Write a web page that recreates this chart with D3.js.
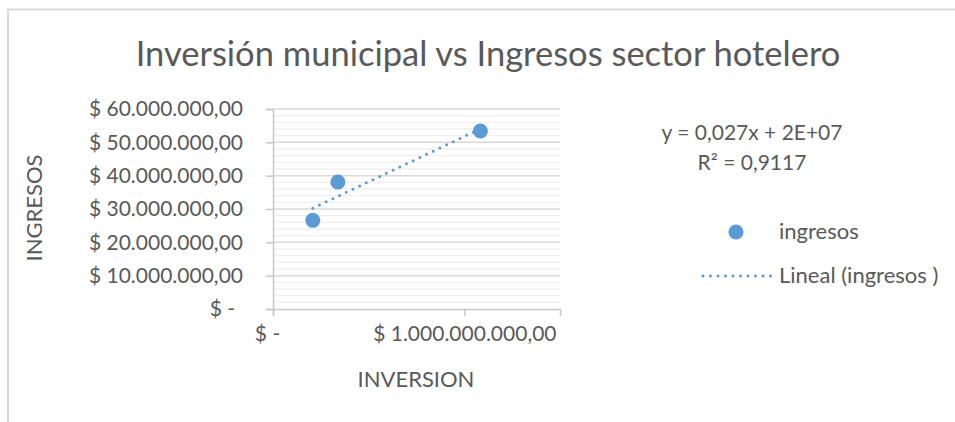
<!DOCTYPE html>
<html>
<head>
<meta charset="utf-8">
<script src="https://cdn.jsdelivr.net/npm/d3@7"></script>
<style>
  body { margin: 0; background: #fff; }
  text { font-family: Lato, "Open Sans", sans-serif; fill: #595959; }
</style>
</head>
<body>
<svg id="chart" width="955" height="422"></svg>
<script>
// datos
const inversion = [208e6, 339e6, 1084e6]
const ingresos = [26.6e6, 38.1e6, 53.4e6]
const yTicks = [0, 10e6, 20e6, 30e6, 40e6, 50e6, 60e6]
const xTicks = [0, 1e9]
const ecuacion = ["y = 0,027x + 2E+07", "R² = 0,9117"]
const leyenda = ["ingresos", "Lineal (ingresos )"]

const azul = "#5B9BD5"
const svg = d3.select("#chart")

// borde del área del gráfico
svg.append("rect")
    .attr("x", 8).attr("y", 9.5).attr("width", 1000).attr("height", 500)
    .attr("fill", "none").attr("stroke", "#D9D9D9").attr("stroke-width", 2)

svg.append("text")
    .attr("x", 488).attr("y", 66)
    .attr("text-anchor", "middle")
    .attr("font-size", 34.5)
    .text("Inversión municipal vs Ingresos sector hotelero")

const x = d3.scaleLinear().domain([0, 1.5e9]).range([273, 560])
const y = d3.scaleLinear().domain([0, 60e6]).range([309, 109])

const loc = d3.formatLocale({decimal: ",", thousands: ".", grouping: [3], currency: ["$ ", ""]})
const fmt = loc.format("$,.2f")
const money = d => d === 0 ? "$ -" : fmt(d)

// rejilla menor (cada 2 millones)
svg.append("g").selectAll("line")
    .data(d3.range(0, 60e6 + 1, 2e6).filter(d => d % 10e6 !== 0))
    .join("line")
    .attr("x1", x(0)).attr("x2", x(1.5e9))
    .attr("y1", d => y(d)).attr("y2", d => y(d))
    .attr("stroke", "#EFEFEF").attr("stroke-width", 1.3)

// rejilla mayor
svg.append("g").selectAll("line")
    .data(yTicks.slice(1))
    .join("line")
    .attr("x1", x(0)).attr("x2", x(1.5e9))
    .attr("y1", d => y(d)).attr("y2", d => y(d))
    .attr("stroke", "#D9D9D9").attr("stroke-width", 1.5)

// eje y
const yAxis = svg.append("g")
    .attr("transform", `translate(${x(0)},0)`)
    .call(d3.axisLeft(y).tickValues(yTicks).tickSize(7).tickPadding(23).tickFormat(money))
yAxis.select(".domain").attr("stroke", "#C8C8C8").attr("stroke-width", 1.5)
yAxis.selectAll(".tick line").attr("stroke", "#C8C8C8").attr("stroke-width", 1.5)
yAxis.selectAll(".tick text")
    .attr("font-size", 21).attr("fill", "#595959")
    .attr("font-family", "Lato, 'Open Sans', sans-serif")
    .attr("dx", d => d === 0 ? -8 : 0)

// eje x
const xAxis = svg.append("g")
    .attr("transform", `translate(0,${y(0)})`)
    .call(d3.axisBottom(x).tickValues(xTicks).tickSize(7).tickPadding(10).tickFormat(money))
xAxis.select(".domain").attr("stroke", "#C8C8C8").attr("stroke-width", 1.5)
xAxis.selectAll(".tick line").attr("stroke", "#C8C8C8").attr("stroke-width", 1.5)
xAxis.selectAll(".tick text")
    .attr("font-size", 21).attr("fill", "#595959")
    .attr("font-family", "Lato, 'Open Sans', sans-serif")
    .attr("dx", d => d === 0 ? -6 : 0)

// títulos de ejes
svg.append("text")
    .attr("x", 416).attr("y", 387)
    .attr("text-anchor", "middle").attr("font-size", 22)
    .text("INVERSION")
svg.append("text")
    .attr("transform", "translate(42,208) rotate(-90)")
    .attr("text-anchor", "middle").attr("font-size", 22)
    .text("INGRESOS")

// línea de tendencia (mínimos cuadrados)
const mx = d3.mean(inversion), my = d3.mean(ingresos)
const sxy = d3.sum(inversion, (d, i) => (d - mx) * (ingresos[i] - my))
const sxx = d3.sum(inversion, d => (d - mx) ** 2)
const m = sxy / sxx, b = my - m * mx
const [x0, x1] = d3.extent(inversion)

svg.append("path")
    .attr("d", d3.line()([[x(x0), y(m * x0 + b)], [x(x1), y(m * x1 + b)]]))
    .attr("stroke", azul).attr("stroke-width", 3)
    .attr("stroke-linecap", "round").attr("stroke-dasharray", "0,7.4")
    .attr("fill", "none")

// puntos
svg.append("g").selectAll("circle")
    .data(inversion)
    .join("circle")
    .attr("cx", d => x(d))
    .attr("cy", (d, i) => y(ingresos[i]))
    .attr("r", 7.5)
    .attr("fill", azul)

// ecuación
svg.append("text")
    .attr("x", 752).attr("y", 140)
    .attr("text-anchor", "middle").attr("font-size", 21)
    .text(ecuacion[0])
svg.append("text")
    .attr("x", 752).attr("y", 170)
    .attr("text-anchor", "middle").attr("font-size", 21)
    .text(ecuacion[1])

// leyenda
svg.append("circle").attr("cx", 736).attr("cy", 232).attr("r", 7.5).attr("fill", azul)
svg.append("text").attr("x", 779).attr("y", 239).attr("font-size", 22).text(leyenda[0])
svg.append("line")
    .attr("x1", 703).attr("x2", 771).attr("y1", 276).attr("y2", 276)
    .attr("stroke", azul).attr("stroke-width", 3)
    .attr("stroke-linecap", "round").attr("stroke-dasharray", "0,7.5")
svg.append("text").attr("x", 779).attr("y", 283).attr("font-size", 22).text(leyenda[1])
</script>
</body>
</html>
